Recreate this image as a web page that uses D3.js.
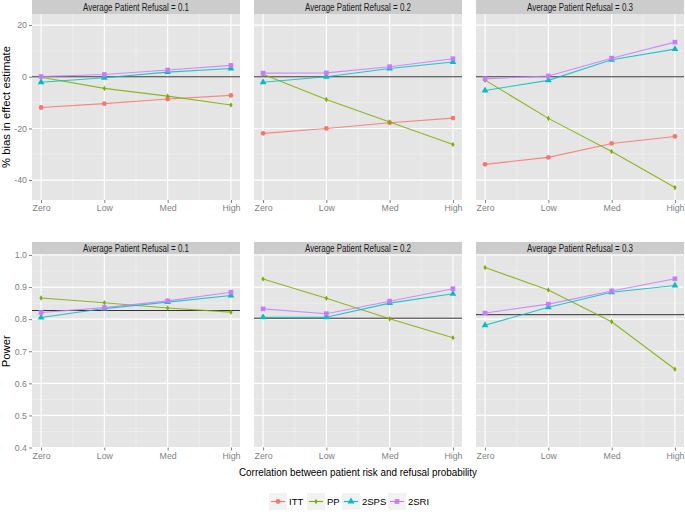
<!DOCTYPE html>
<html><head><meta charset="utf-8">
<script src="https://cdn.jsdelivr.net/npm/d3@7"></script>
<style>
body{margin:0;background:#fff;}
text{font-family:"Liberation Sans",Arial,sans-serif;}
</style></head><body>
<svg id="c" width="685" height="514"></svg>
<script>
const categories = ["Zero","Low","Med","High"];
const refusals = ["0.1","0.2","0.3"];
const methods = ["ITT","PP","2SPS","2SRI"];
const colors = ["#F8766D","#7CAE00","#00BFC4","#C77CFF"];

// % bias in effect estimate, per refusal panel
const biasITT  = [[-11.9,-10.4,-8.6,-7.2],[-21.9,-20.0,-17.8,-16.0],[-33.9,-31.2,-25.8,-23.1]];
const biasPP   = [[-0.2,-4.5,-7.5,-10.9],[1.0,-8.8,-17.5,-26.2],[-1.3,-16.1,-28.9,-42.9]];
const bias2SPS = [[-2.1,-0.4,1.8,3.2],[-2.1,0.0,3.2,5.7],[-5.3,-1.4,6.6,10.7]];
const bias2SRI = [[0.1,0.9,2.6,4.4],[1.4,1.5,3.9,7.0],[-0.8,0.3,7.2,13.4]];
const biasRef  = [0,0,0];

// Power
const powPP    = [[0.866,0.851,0.835,0.822],[0.925,0.865,0.801,0.742],[0.961,0.891,0.792,0.644]];
const pow2SPS  = [[0.805,0.833,0.853,0.874],[0.806,0.806,0.850,0.879],[0.781,0.837,0.884,0.905]];
const pow2SRI  = [[0.821,0.836,0.857,0.884],[0.832,0.817,0.856,0.895],[0.819,0.847,0.888,0.926]];
const powRef   = [0.827,0.803,0.814];

const biasTicks = [20,0,-20,-40];
const powTicks = [0.4,0.5,0.6,0.7,0.8,0.9,1.0];

const svg = d3.select("#c");
const panelX = [32,254,476], panelW = 208;
const rows = [
  {top:14, bottom:200, stripTop:0, domain:[-47.7,24.3], ticks:biasTicks, minor:[10,-10,-30],
   fmt:d=>d, title:"% bias in effect estimate", titleLen:122,
   series:[biasITT,biasPP,bias2SPS,bias2SRI], ref:biasRef},
  {top:255, bottom:447.5, stripTop:242, domain:[0.4,1.0], ticks:powTicks, minor:[0.45,0.55,0.65,0.75,0.85,0.95],
   fmt:d3.format(".1f"), title:"Power", titleLen:32,
   series:[null,powPP,pow2SPS,pow2SRI], ref:powRef}
];

const shapes = [d3.symbolCircle, d3.symbolDiamond, d3.symbolTriangle, d3.symbolSquare];
const sizes = [18, 9, 20, 22];

rows.forEach((row,ri)=>{
  const y = d3.scaleLinear().domain(row.domain).range([row.bottom,row.top]);
  svg.append("text").attr("transform",`translate(10,${(row.top+row.bottom)/2}) rotate(-90)`)
    .attr("text-anchor","middle").attr("font-size",11.5).attr("fill","#000")
    .attr("textLength",row.titleLen).attr("lengthAdjust","spacingAndGlyphs").text(row.title);
  panelX.forEach((px,pi)=>{
    const x = d3.scalePoint().domain(categories).range([px,px+panelW]).padding(0.143);
    const g = svg.append("g");
    g.append("rect").attr("x",px).attr("y",row.stripTop).attr("width",panelW).attr("height",row.top-row.stripTop-(ri==1?0.5:0))
      .attr("fill","#cccccc");
    g.append("text").attr("x",px+panelW/2).attr("y",row.stripTop+(row.top-row.stripTop)/2+3.6)
      .attr("text-anchor","middle").attr("font-size",10).attr("fill","#1a1a1a")
      .attr("textLength",106).attr("lengthAdjust","spacingAndGlyphs")
      .text("Average Patient Refusal = "+refusals[pi]);
    g.append("rect").attr("x",px).attr("y",row.top).attr("width",panelW).attr("height",row.bottom-row.top).attr("fill","#e5e5e5");
    row.minor.forEach(v=>{
      g.append("line").attr("x1",px).attr("x2",px+panelW).attr("y1",y(v)).attr("y2",y(v)).attr("stroke","#f2f2f2").attr("stroke-width",0.6);
    });
    for(let i=0;i<categories.length-1;i++){
      const mx=(x(categories[i])+x(categories[i+1]))/2;
      g.append("line").attr("x1",mx).attr("x2",mx).attr("y1",row.top).attr("y2",row.bottom).attr("stroke","#f2f2f2").attr("stroke-width",0.6);
    }
    row.ticks.forEach(v=>{
      g.append("line").attr("x1",px).attr("x2",px+panelW).attr("y1",y(v)).attr("y2",y(v)).attr("stroke","#fff").attr("stroke-width",1.1);
    });
    categories.forEach(c=>{
      g.append("line").attr("x1",x(c)).attr("x2",x(c)).attr("y1",row.top).attr("y2",row.bottom).attr("stroke","#fff").attr("stroke-width",1.1);
    });
    const xa = svg.append("g").attr("transform",`translate(0,${row.bottom})`)
      .call(d3.axisBottom(x).tickSize(3).tickPadding(2));
    xa.select(".domain").remove();
    xa.selectAll("line").attr("stroke","#7f7f7f");
    xa.selectAll("text").attr("font-size",8.8).attr("fill","#7f7f7f").attr("font-family","Liberation Sans, Arial, sans-serif");
    if(pi===0){
      const ya = svg.append("g").attr("transform",`translate(${px},0)`)
        .call(d3.axisLeft(y).tickValues(row.ticks).tickFormat(row.fmt).tickSize(3).tickPadding(2));
      ya.select(".domain").remove();
      ya.selectAll("line").attr("stroke","#7f7f7f");
      ya.selectAll("text").attr("font-size",8.8).attr("fill","#7f7f7f").attr("font-family","Liberation Sans, Arial, sans-serif");
    }
    g.append("line").attr("x1",px).attr("x2",px+panelW).attr("y1",y(row.ref[pi])).attr("y2",y(row.ref[pi]))
      .attr("stroke","#333").attr("stroke-width",1);
    row.series.forEach((s,si)=>{
      if(!s) return;
      const vals = s[pi];
      const line = d3.line().x((d,i)=>x(categories[i])).y(d=>y(d));
      g.append("path").attr("d",line(vals)).attr("fill","none").attr("stroke",colors[si]).attr("stroke-width",1.1).attr("stroke-opacity",0.85);
      vals.forEach((v,i)=>{
        g.append("path").attr("d",d3.symbol(shapes[si],sizes[si])())
          .attr("transform",`translate(${x(categories[i])},${y(v)})`).attr("fill",colors[si]);
      });
    });
  });
});

svg.append("text").attr("x",358).attr("y",476).attr("text-anchor","middle").attr("font-size",11.2).attr("fill","#000")
  .attr("textLength",238).attr("lengthAdjust","spacingAndGlyphs")
  .text("Correlation between patient risk and refusal probability");

const legX = [269,307,342,388];
methods.forEach((m,i)=>{
  const lx = legX[i], ly=493;
  svg.append("rect").attr("x",lx).attr("y",ly).attr("width",18).attr("height",17).attr("fill","#f2f2f2");
  svg.append("line").attr("x1",lx+2).attr("x2",lx+16).attr("y1",ly+8.5).attr("y2",ly+8.5).attr("stroke",colors[i]).attr("stroke-width",1.1);
  svg.append("path").attr("d",d3.symbol(shapes[i],sizes[i])()).attr("transform",`translate(${lx+9},${ly+8.5})`).attr("fill",colors[i]);
  svg.append("text").attr("x",lx+20).attr("y",ly+12).attr("font-size",9.5).attr("fill","#000").text(m);
});
</script>
</body></html>
